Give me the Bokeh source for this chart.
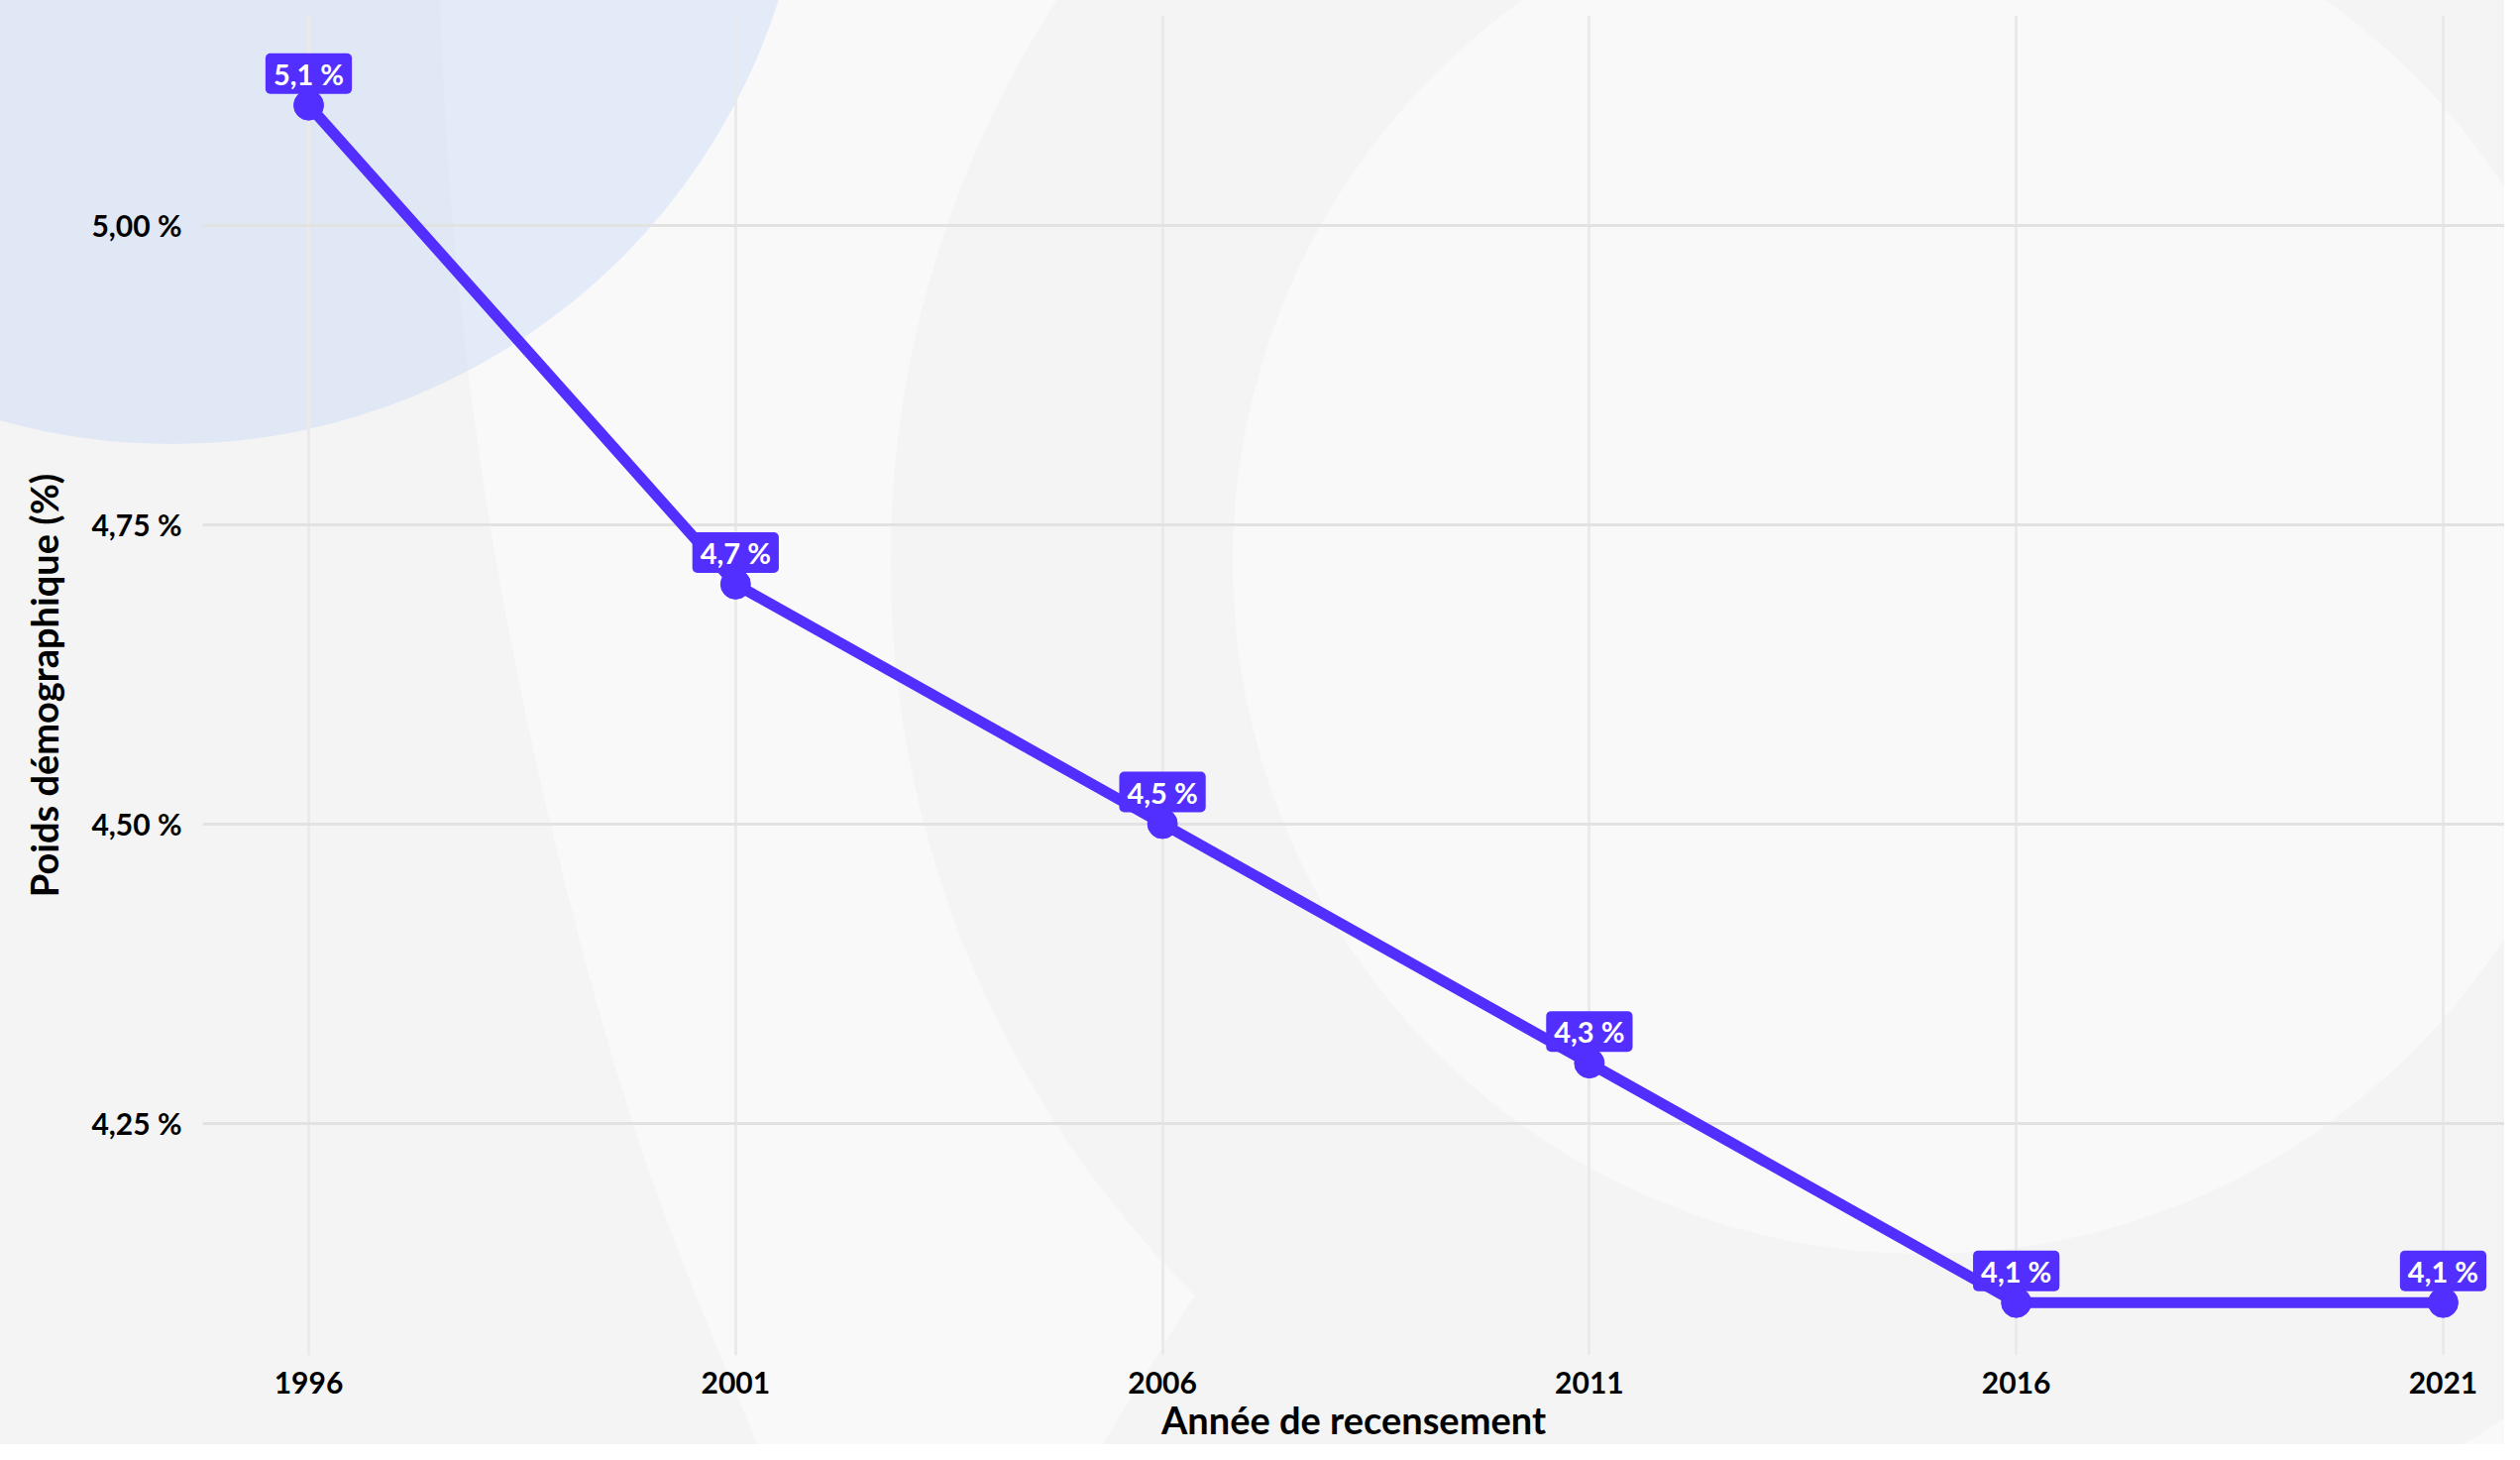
from urllib.parse import quote
from bokeh.plotting import figure
from bokeh.models import ColumnDataSource, FixedTicker
from bokeh.core.properties import value
from bokeh.embed import file_html
from bokeh.resources import INLINE

# ---- data ----
years = [1996, 2001, 2006, 2011, 2016, 2021]
poids = [5.1, 4.7, 4.5, 4.3, 4.1, 4.1]
point_labels = ["5,1 %", "4,7 %", "4,5 %", "4,3 %", "4,1 %", "4,1 %"]
x_ticks = [1996, 2001, 2006, 2011, 2016, 2021]
x_tick_labels = ["1996", "2001", "2006", "2011", "2016", "2021"]
y_ticks = [4.25, 4.50, 4.75, 5.00]
y_tick_labels = ["4,25 %", "4,50 %", "4,75 %", "5,00 %"]

FONT = "Lato"
ACCENT = "#522EFF"

W, H = 2527, 1457

p = figure(width=W, height=H, output_backend="svg", toolbar_location=None,
           x_range=(1994.758, 2021.72), y_range=(4.0559, 5.1751),
           min_border_left=204, min_border_right=0, min_border_top=15,
           min_border_bottom=87)

p.background_fill_alpha = 0
p.border_fill_alpha = 0
p.outline_line_color = None

# decorative background (page decoration, drawn as CSS background of the figure)
deco = (
    f"<svg xmlns='http://www.w3.org/2000/svg' width='{W}' height='{H}'>"
    f"<rect x='0' y='0' width='{W}' height='{H}' fill='#f4f4f4'/>"
    "<rect x='2250' y='1150' width='400' height='400' fill='#f9f9f9'/>"
    "<path d='M 444 0 C 452 250, 480 520, 560 850 S 700 1300, 771 1473 "
    "L 1103 1473 Q 1150 1395, 1210 1300 L 1700 600 L 1600 0 Z' fill='#f9f9f9'/>"
    "<circle cx='1941.5' cy='567.7' r='1043' fill='#f4f4f4'/>"
    "<circle cx='1941.5' cy='567.7' r='697.5' fill='#f9f9f9'/>"
    "<circle cx='173' cy='-195' r='643' fill='rgb(190,208,245)' fill-opacity='0.35'/>"
    "</svg>"
)
p.styles = {
    "background-color": "#f4f4f4",
    "background-image": 'url("data:image/svg+xml,' + quote(deco) + '")',
    "background-repeat": "no-repeat",
}

# grid
p.ygrid.grid_line_color = "#e2e2e2"
p.ygrid.grid_line_width = 3
p.xgrid.grid_line_color = "#eaeaea"
p.xgrid.grid_line_width = 3

# axes
p.xaxis.ticker = FixedTicker(ticks=x_ticks)
p.xaxis.major_label_overrides = {t: l for t, l in zip(x_ticks, x_tick_labels)}
p.yaxis.ticker = FixedTicker(ticks=y_ticks)
p.yaxis.major_label_overrides = {t: l for t, l in zip(y_ticks, y_tick_labels)}
p.xgrid.ticker = p.xaxis.ticker
p.ygrid.ticker = p.yaxis.ticker

for ax in (p.xaxis, p.yaxis):
    ax.axis_line_color = None
    ax.major_tick_line_color = None
    ax.minor_tick_line_color = None
    ax.major_tick_in = 0
    ax.major_tick_out = 0
    ax.major_label_text_font = FONT
    ax.major_label_text_font_style = "bold"
    ax.major_label_text_font_size = "30px"
    ax.major_label_text_color = "#000000"
    ax.major_label_text_line_height = 0.9
    ax.axis_label_text_font = FONT
    ax.axis_label_text_font_style = "bold"
    ax.axis_label_text_font_size = "38px"
    ax.axis_label_text_color = "#000000"
    ax.axis_label_text_line_height = 0.9

p.xaxis.axis_label = "Année de recensement"
p.yaxis.axis_label = "Poids démographique (%)"
p.xaxis.major_label_standoff = 16
p.yaxis.major_label_standoff = 21
p.xaxis.axis_label_standoff = 0
p.yaxis.axis_label_standoff = 22

src = ColumnDataSource(dict(x=years, y=poids, label=point_labels))

p.line("x", "y", source=src, line_color=ACCENT, line_width=11)
p.scatter("x", "y", source=src, size=30, fill_color=ACCENT, line_color=ACCENT)
p.text("x", "y", text="label", source=src, y_offset=-32,
       text_align="center", text_baseline="middle",
       text_color="white", text_font=value(FONT), text_font_style="bold",
       text_font_size="29px", background_fill_color=ACCENT,
       border_radius=5, padding=(8, 3))

open("out.html", "w").write(file_html(p, INLINE))
